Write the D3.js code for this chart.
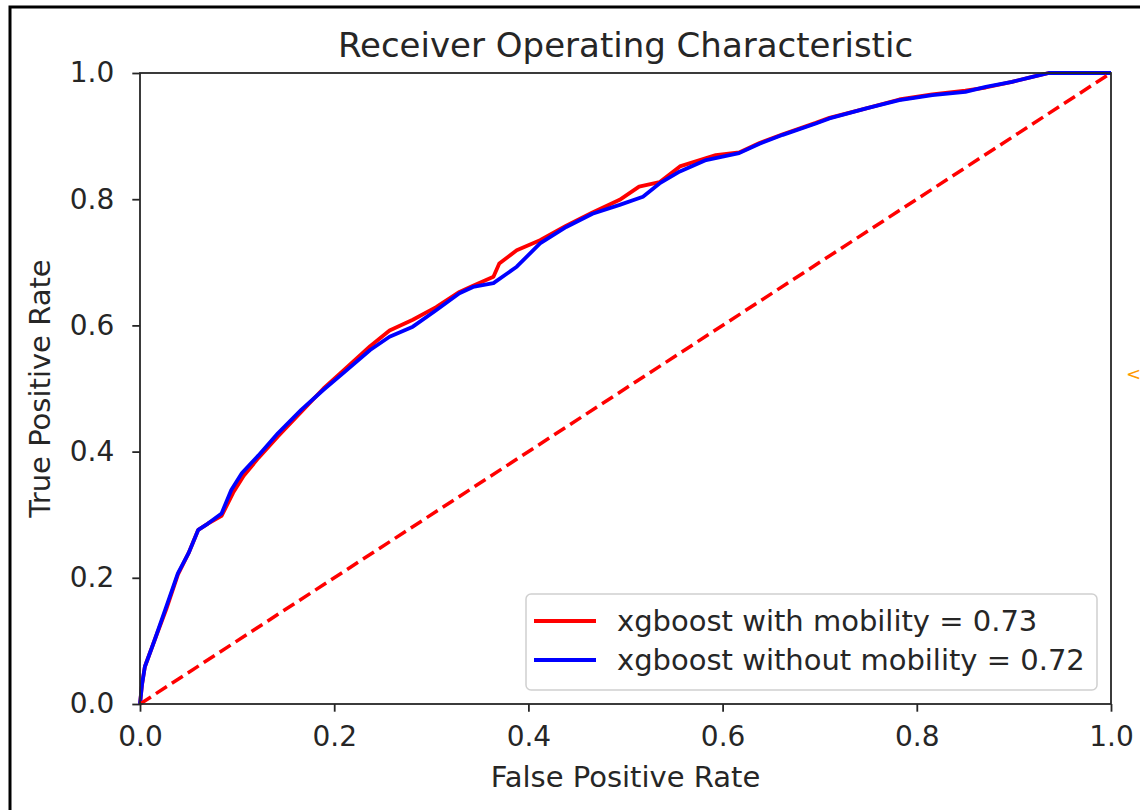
<!DOCTYPE html>
<html>
<head>
<meta charset="utf-8">
<script src="https://cdn.jsdelivr.net/npm/d3@7"></script>
<style>
  body { margin: 0; background: #fff; }
  svg { display: block; }
  text { font-family: "DejaVu Sans", sans-serif; fill: #262626; }
</style>
</head>
<body>
<script>
// ROC curve points
var fprWith = [0, 0.002, 0.005, 0.015, 0.027, 0.039, 0.050, 0.060, 0.070, 0.084,
               0.096, 0.107, 0.122, 0.142, 0.166, 0.189, 0.209, 0.237, 0.257, 0.281,
               0.305, 0.329, 0.343, 0.364, 0.370, 0.388, 0.412, 0.439, 0.466, 0.494,
               0.514, 0.535, 0.556, 0.593, 0.617, 0.638, 0.662, 0.696, 0.710, 0.748,
               0.782, 0.816, 0.850, 0.871, 0.898, 0.919, 0.936, 1.0];
var tprWith = [0, 0.03, 0.059, 0.101, 0.150, 0.205, 0.239, 0.276, 0.286, 0.298,
               0.335, 0.362, 0.390, 0.424, 0.463, 0.500, 0.528, 0.567, 0.592, 0.609,
               0.629, 0.653, 0.663, 0.677, 0.698, 0.719, 0.735, 0.758, 0.779, 0.799,
               0.820, 0.827, 0.852, 0.870, 0.874, 0.889, 0.903, 0.921, 0.929, 0.944,
               0.958, 0.966, 0.972, 0.977, 0.986, 0.994, 1.0, 1.0];

var fprWithout = [0, 0.002, 0.005, 0.015, 0.027, 0.039, 0.050, 0.060, 0.070, 0.084,
                  0.094, 0.105, 0.122, 0.142, 0.166, 0.189, 0.209, 0.237, 0.257, 0.281,
                  0.305, 0.329, 0.343, 0.364, 0.388, 0.412, 0.439, 0.466, 0.494, 0.518,
                  0.535, 0.556, 0.583, 0.617, 0.638, 0.662, 0.696, 0.710, 0.748, 0.782,
                  0.816, 0.850, 0.871, 0.898, 0.919, 0.936, 1.0];
var tprWithout = [0, 0.03, 0.059, 0.101, 0.154, 0.207, 0.239, 0.276, 0.286, 0.302,
                  0.339, 0.366, 0.394, 0.429, 0.466, 0.498, 0.524, 0.561, 0.582, 0.598,
                  0.624, 0.651, 0.661, 0.667, 0.693, 0.730, 0.756, 0.777, 0.791, 0.804,
                  0.825, 0.844, 0.862, 0.873, 0.888, 0.902, 0.920, 0.928, 0.944, 0.957,
                  0.965, 0.970, 0.978, 0.986, 0.994, 1.0, 1.0];

var diagonal = [0, 1];
var tickVals = [0, 0.2, 0.4, 0.6, 0.8, 1.0];
var legendLabels = ["xgboost with mobility = 0.73", "xgboost without mobility = 0.72"];
var seriesColors = ["red", "blue"];

var W = 1140, H = 810;
// plot box (note: "top" is reserved on window, so use other names)
var pLeft = 140, pRight = 1111, pTop = 73, pBottom = 704;

var svg = d3.select("body").append("svg").attr("width", W).attr("height", H);

// outer frame of the screenshot
svg.append("rect").attr("x", 10).attr("y", 7).attr("width", W).attr("height", H)
  .attr("fill", "#fff").attr("stroke", "#000").attr("stroke-width", 3);

var x = d3.scaleLinear().domain([0, 1]).range([pLeft, pRight]);
var y = d3.scaleLinear().domain([0, 1]).range([pBottom, pTop]);

var line = d3.line()
  .x(function(d) { return x(d[0]); })
  .y(function(d) { return y(d[1]); });

var plot = svg.append("g");

// curves: red first, blue on top
plot.append("path")
  .attr("fill", "none").attr("stroke", seriesColors[0]).attr("stroke-width", 3.8)
  .attr("stroke-linejoin", "round")
  .attr("d", line(d3.zip(fprWith, tprWith)));

plot.append("path")
  .attr("fill", "none").attr("stroke", seriesColors[1]).attr("stroke-width", 3.8)
  .attr("stroke-linejoin", "round")
  .attr("d", line(d3.zip(fprWithout, tprWithout)));

// chance line
plot.append("path")
  .attr("fill", "none").attr("stroke", seriesColors[0]).attr("stroke-width", 3.5)
  .attr("stroke-dasharray", "13,6")
  .attr("d", line(d3.zip(diagonal, diagonal)));

// axes
var xAxis = svg.append("g").attr("transform", "translate(0," + pBottom + ")")
  .call(d3.axisBottom(x).tickValues(tickVals).tickFormat(d3.format(".1f")).tickSize(7.7).tickPadding(14));
var yAxis = svg.append("g").attr("transform", "translate(" + pLeft + ",0)")
  .call(d3.axisLeft(y).tickValues(tickVals).tickFormat(d3.format(".1f")).tickSize(7.7).tickPadding(18));

[xAxis, yAxis].forEach(function(a) {
  a.select(".domain").remove();
  a.selectAll(".tick line").attr("stroke", "#262626").attr("stroke-width", 1.8);
  a.selectAll(".tick text").style("font-size", "28px").style("font-family", "DejaVu Sans").attr("fill", "#262626");
});

// spines
svg.append("rect").attr("x", pLeft).attr("y", pTop)
  .attr("width", pRight - pLeft).attr("height", pBottom - pTop)
  .attr("fill", "none").attr("stroke", "#262626").attr("stroke-width", 1.8);

// title and labels
svg.append("text").attr("x", (pLeft + pRight) / 2).attr("y", 57)
  .attr("text-anchor", "middle").style("font-size", "34px")
  .text("Receiver Operating Characteristic");

svg.append("text").attr("x", (pLeft + pRight) / 2).attr("y", 787)
  .attr("text-anchor", "middle").style("font-size", "29px")
  .text("False Positive Rate");

svg.append("text")
  .attr("transform", "translate(50," + ((pTop + pBottom) / 2) + ") rotate(-90)")
  .attr("text-anchor", "middle").style("font-size", "29px")
  .text("True Positive Rate");

// legend
var lg = svg.append("g").attr("transform", "translate(526,594)");
lg.append("rect").attr("width", 571).attr("height", 96).attr("rx", 5)
  .attr("fill", "#fff").attr("fill-opacity", 0.8)
  .attr("stroke", "#d0d0d0").attr("stroke-width", 1.5);

lg.selectAll("g.item").data(legendLabels).enter().append("g")
  .attr("class", "item")
  .attr("transform", function(d, i) { return "translate(0," + (27 + i * 39) + ")"; })
  .each(function(d, i) {
    var g = d3.select(this);
    g.append("line").attr("x1", 8).attr("x2", 70).attr("y1", 0).attr("y2", 0)
      .attr("stroke", seriesColors[i]).attr("stroke-width", 3.8);
    g.append("text").attr("x", 91).attr("y", 10).style("font-size", "29px").text(d);
  });

// stray marker at the right edge of the screenshot
svg.append("text").attr("x", 1126).attr("y", 380).style("font-size", "18px")
  .style("fill", "#f90").text("<");
</script>
</body>
</html>
